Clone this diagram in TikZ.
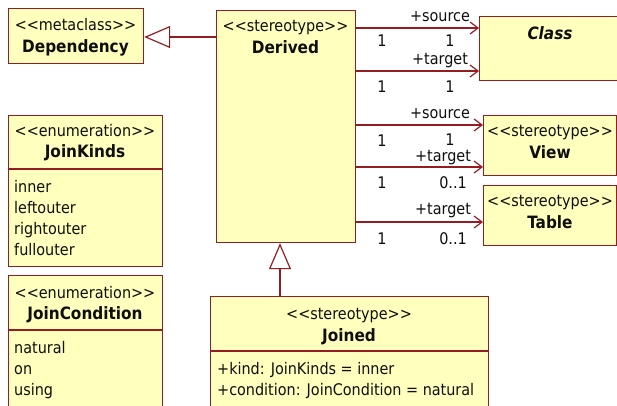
\documentclass[tikz,border=0pt]{standalone}
\usepackage{fontspec}
\setmainfont{DejaVu Sans Condensed}[Ligatures=TeXOff]
\usetikzlibrary{arrows.meta}
\definecolor{umlfill}{RGB}{255,255,190}
\definecolor{umlline}{RGB}{150,28,36}
\definecolor{umltext}{RGB}{15,15,15}
\tikzset{
  box/.style={draw=umlline, fill=umlfill, line width=1.2pt, anchor=north west, inner sep=0pt},
  txt/.style={inner sep=0pt, yshift=-2.5pt, text=umltext, font=\fontsize{16}{18}\selectfont, text height=12pt, text depth=3.5pt},
  hd/.style={txt, font=\fontsize{17}{18}\selectfont\bfseries},
  lab/.style={txt},
  gen/.style={draw=umlline, line width=1.2pt, -{Triangle[open, fill=white, length=26pt, width=22pt, line width=1.2pt]}},
  assoc/.style={draw=umlline, line width=1.2pt, -{Straight Barb[length=8pt, width=12pt, line width=1.2pt]}},
  sep/.style={draw=umlline, line width=1.2pt}
}
\begin{document}
\begin{tikzpicture}[x=1pt, y=-1pt]
\useasboundingbox (0,0) rectangle (617,405);
\clip (0,0) rectangle (617,405);
\fill[white] (0,0) rectangle (617,405);

% Dependency metaclass
\node[box, minimum width=135pt, minimum height=55pt] (dep) at (8,8) {};
\node[txt] (depst) at (75.5,24) {<<metaclass>>};
\node[hd] (depnm) at (75.5,46) {Dependency};

% Derived stereotype
\node[box, minimum width=139pt, minimum height=232pt] (derived) at (216,10) {};
\node[txt] (derst) at (285.5,25) {<<stereotype>>};
\node[hd] (dernm) at (285.5,47) {Derived};

% Class
\node[box, minimum width=150pt, minimum height=64pt] (cls) at (479,16) {};
\node[hd, font=\fontsize{17}{18}\selectfont\bfseries\itshape] (clsnm) at (550,33) {Class};

% View
\node[box, minimum width=133pt, minimum height=60pt] (view) at (483,115) {};
\node[txt] (viewst) at (550,130) {<<stereotype>>};
\node[hd] (viewnm) at (550,152) {View};

% Table
\node[box, minimum width=133pt, minimum height=60pt] (table) at (483,185) {};
\node[txt] (tabst) at (550,200) {<<stereotype>>};
\node[hd] (tabnm) at (550,222) {Table};

% JoinKinds enumeration
\node[box, minimum width=154pt, minimum height=151pt] (jk) at (8,115) {};
\draw[sep] (jk.west |- 0,169) -- (jk.east |- 0,169);
\node[txt] (jkst) at (85,130) {<<enumeration>>};
\node[hd] (jknm) at (85,151) {JoinKinds};
\node[txt, anchor=west] (jk1) at (14,186) {inner};
\node[txt, anchor=west] (jk2) at (14,207) {leftouter};
\node[txt, anchor=west] (jk3) at (14,228) {rightouter};
\node[txt, anchor=west] (jk4) at (14,249) {fullouter};

% JoinCondition enumeration
\node[box, minimum width=154pt, minimum height=150pt] (jc) at (8,275) {};
\draw[sep] (jc.west |- 0,330) -- (jc.east |- 0,330);
\node[txt] (jcst) at (85,292) {<<enumeration>>};
\node[hd] (jcnm) at (85,313) {JoinCondition};
\node[txt, anchor=west] (jc1) at (14,347) {natural};
\node[txt, anchor=west] (jc2) at (14,368) {on};
\node[txt, anchor=west] (jc3) at (14,389) {using};

% Joined stereotype
\node[box, minimum width=278pt, minimum height=130pt] (joined) at (210,296) {};
\draw[sep] (joined.west |- 0,351) -- (joined.east |- 0,351);
\node[txt] (jost) at (349,313) {<<stereotype>>};
\node[hd] (jonm) at (349,335) {Joined};
\node[txt, anchor=west] (jo1) at (217,368) {+kind: JoinKinds = inner};
\node[txt, anchor=west] (jo2) at (217,389) {+condition: JoinCondition = natural};

% Generalizations
\coordinate (gd) at (0,37);
\draw[gen] (derived.west |- gd) -- (dep.east |- gd);
\coordinate (gj) at (280,0);
\draw[gen] (joined.north -| gj) -- (derived.south -| gj);

% Associations
\coordinate (a1) at (0,28);
\coordinate (a2) at (0,71);
\coordinate (a3) at (0,125);
\coordinate (a4) at (0,167);
\coordinate (a5) at (0,222);
\draw[assoc] (derived.east |- a1) -- (cls.west |- a1);
\draw[assoc] (derived.east |- a2) -- (cls.west |- a2);
\draw[assoc] (derived.east |- a3) -- (view.west |- a3);
\draw[assoc] (derived.east |- a4) -- (view.west |- a4);
\draw[assoc] (derived.east |- a5) -- (table.west |- a5);

% Association end labels
\node[lab] (r1) at (440,15) {+source};
\node[lab] (m1a) at (382,40) {1};
\node[lab] (m1b) at (450,40) {1};
\node[lab] (r2) at (440,58) {+target};
\node[lab] (m2a) at (382,86) {1};
\node[lab] (m2b) at (450,86) {1};
\node[lab] (r3) at (440,112) {+source};
\node[lab] (m3a) at (382,140) {1};
\node[lab] (m3b) at (450,139) {1};
\node[lab] (r4) at (443,155) {+target};
\node[lab] (m4a) at (382,182) {1};
\node[lab] (m4b) at (453,182) {0..1};
\node[lab] (r5) at (443,208) {+target};
\node[lab] (m5a) at (382,238) {1};
\node[lab] (m5b) at (453,238) {0..1};
\end{tikzpicture}
\end{document}
